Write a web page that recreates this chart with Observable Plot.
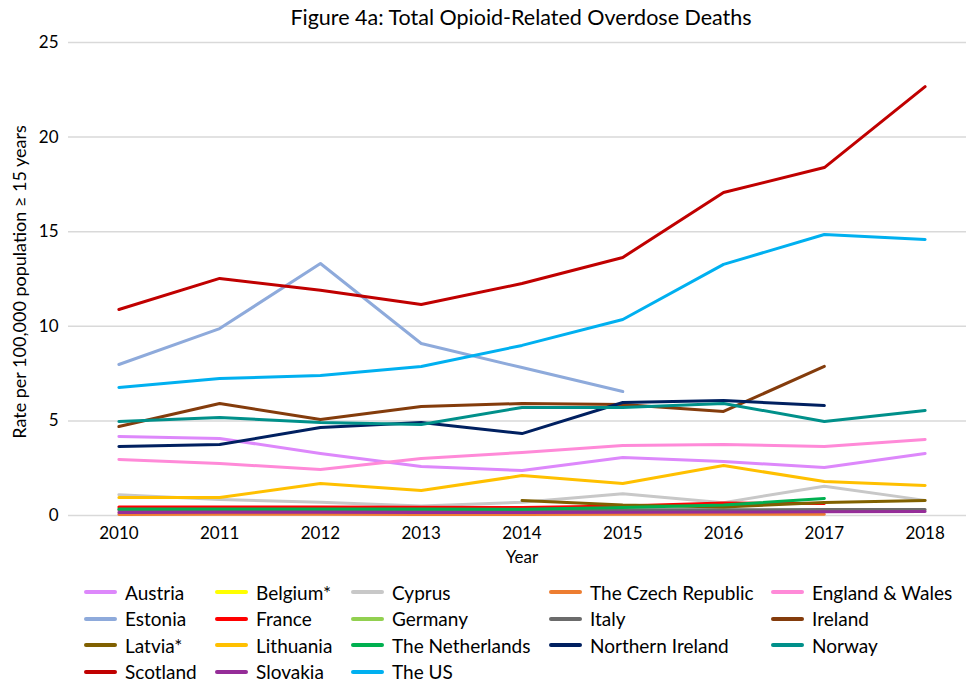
<!DOCTYPE html>
<html>
<head>
<meta charset="utf-8">
<script src="https://cdn.jsdelivr.net/npm/d3@7"></script>
<script src="https://cdn.jsdelivr.net/npm/@observablehq/plot@0.6"></script>
<style>
  body { margin: 0; background: #fff; font-family: Lato, "Open Sans", sans-serif; color: #000; }
  #wrap { position: relative; width: 966px; height: 684px; overflow: hidden; }
  #title { position: absolute; left: 0; top: 4px; width: 966px; text-align: center; padding-left: 76px; box-sizing: border-box; font-size: 21.5px; }
  #chart { position: absolute; left: 0; top: 32px; }
  #legend { position: absolute; left: 84px; top: 579px; display: grid; grid-template-columns: 131px 136px 198px 222px 190px; grid-auto-rows: 26.5px; }
  .item { display: flex; align-items: center; font-size: 19px; line-height: 1; white-space: nowrap; }
  .sw { width: 33px; height: 4px; margin-right: 8px; border-radius: 2px; flex: none; }
</style>
</head>
<body>
<div id="wrap">
  <div id="title">Figure 4a: Total Opioid-Related Overdose Deaths</div>
  <div id="chart"></div>
  <div id="legend"></div>
</div>
<script>
const years = [2010, 2011, 2012, 2013, 2014, 2015, 2016, 2017, 2018];
const yTicks = [0, 5, 10, 15, 20, 25];

const countries = ["Austria", "Belgium*", "Cyprus", "The Czech Republic", "England & Wales",
  "Estonia", "France", "Germany", "Italy", "Ireland",
  "Latvia*", "Lithuania", "The Netherlands", "Northern Ireland", "Norway",
  "Scotland", "Slovakia", "The US"];
const colors = ["#dd88fb", "#ffff00", "#c8c8c8", "#ed7d31", "#ff8ad8",
  "#8eaadb", "#ff0000", "#92d050", "#6b6b6b", "#843c0c",
  "#806000", "#ffc000", "#00b050", "#002060", "#00908a",
  "#c00000", "#952d98", "#00b0f0"];

const austria      = [4.18, 4.07, 3.28, 2.59, 2.38, 3.07, 2.85, 2.54, 3.28];
const belgium      = [null, null, null, null, null, null, null, null, null];
const cyprus       = [1.10, 0.85, 0.70, 0.50, 0.70, 1.15, 0.68, 1.55, 0.80];
const czech        = [0.05, 0.06, 0.06, 0.05, 0.05, 0.06, 0.07, 0.06, null];
const englandWales = [2.96, 2.75, 2.43, 3.01, 3.33, 3.70, 3.75, 3.65, 4.02];
const estonia      = [7.98, 9.88, 13.32, 9.09, 7.82, 6.55, null, null, null];
const france       = [0.45, 0.45, 0.45, 0.43, 0.42, 0.50, 0.66, 0.64, null];
const germany      = [null, null, null, null, null, null, null, null, null];
const italy        = [0.30, 0.30, 0.30, 0.30, 0.30, 0.30, 0.30, 0.32, 0.32];
const ireland      = [4.70, 5.92, 5.07, 5.76, 5.92, 5.87, 5.50, 7.88, null];
const latvia       = [null, null, null, null, 0.79, 0.55, 0.45, 0.69, 0.79];
const lithuania    = [0.95, 0.95, 1.69, 1.32, 2.11, 1.69, 2.64, 1.80, 1.59];
const netherlands  = [0.35, 0.35, 0.34, 0.34, 0.33, 0.42, 0.55, 0.90, null];
const nIreland     = [3.65, 3.75, 4.65, 4.92, 4.33, 5.97, 6.08, 5.81, null];
const norway       = [4.97, 5.18, 4.92, 4.81, 5.71, 5.71, 5.92, 4.97, 5.55];
const scotland     = [10.89, 12.53, 11.90, 11.15, 12.26, 13.64, 17.07, 18.39, 22.67];
const slovakia     = [0.16, 0.17, 0.17, 0.16, 0.16, 0.17, 0.18, 0.20, 0.21];
const theUS        = [6.77, 7.24, 7.40, 7.88, 8.99, 10.36, 13.27, 14.85, 14.59];

const series = [austria, belgium, cyprus, czech, englandWales, estonia, france, germany, italy,
  ireland, latvia, lithuania, netherlands, nIreland, norway, scotland, slovakia, theUS];

const rows = [];
series.forEach((vals, i) => {
  vals.forEach((v, j) => {
    if (v != null) rows.push({country: countries[i], year: years[j], value: v});
  });
});

const chart = Plot.plot({
  width: 966,
  height: 545,
  marginLeft: 68,
  marginRight: 0,
  marginTop: 10,
  marginBottom: 62,
  style: {fontFamily: "Lato, 'Open Sans', sans-serif", fontSize: "17px", color: "#000", background: "#fff"},
  x: {domain: [2009.5, 2018.5], range: [68, 975]},
  y: {domain: [0, 25], range: [483, 10]},
  color: {domain: countries, range: colors},
  marks: [
    Plot.ruleY(yTicks, {stroke: "#d9d9d9", strokeWidth: 1.5}),
    Plot.axisY({ticks: yTicks, tickSize: 0, tickPadding: 10, fontSize: 17, label: null}),
    Plot.axisX({ticks: years, tickFormat: d => String(d), tickSize: 0, tickPadding: 11, fontSize: 17, label: null}),
    Plot.text(["Year"], {frameAnchor: "bottom", x: 2014, dy: 42, text: d => d, fontSize: 17, lineAnchor: "middle"}),
    Plot.text(["Rate per 100,000 population ≥ 15 years"], {frameAnchor: "left", textAnchor: "middle", dx: -48, dy: 3, rotate: -90, text: d => d, fontSize: 18}),
    Plot.lineY(rows, {x: "year", y: "value", z: "country", stroke: "country", strokeWidth: 3, strokeLinejoin: "round", strokeLinecap: "round"})
  ]
});
document.getElementById("chart").appendChild(chart);

const legend = document.getElementById("legend");
countries.forEach((c, i) => {
  const it = document.createElement("div");
  it.className = "item";
  const sw = document.createElement("span");
  sw.className = "sw";
  sw.style.background = colors[i];
  const t = document.createElement("span");
  t.textContent = c;
  it.appendChild(sw);
  it.appendChild(t);
  legend.appendChild(it);
});
</script>
</body>
</html>
